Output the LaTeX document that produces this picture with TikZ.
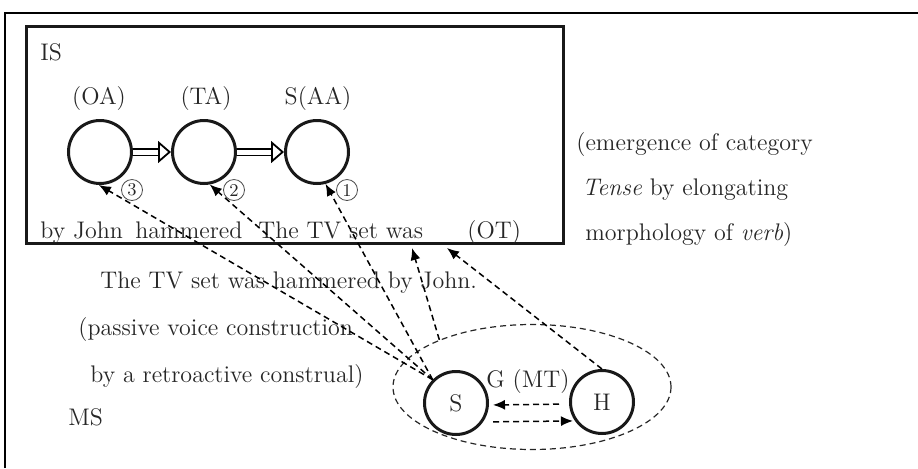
\documentclass[tikz,border=0pt]{standalone}
\usetikzlibrary{arrows.meta, positioning, calc, shapes.geometric}

\begin{document}
\begin{tikzpicture}[
  x=0.5pt, y=-0.5pt,
  every node/.style = {font=\fontsize{12}{14}\selectfont, text=black!85, inner sep=0pt},
  stage/.style = {circle, draw=black!90, line width=1.5pt, minimum size=31.5pt},
  num/.style = {circle, draw=black!70, line width=0.4pt, minimum size=10.5pt,
                font=\fontsize{9}{10}\selectfont},
  lbl/.style = {anchor=base west},
  dasharrow/.style = {-{Latex[length=6pt,width=5pt]}, dash pattern=on 3pt off 2pt, line width=0.75pt},
  dblarrow/.style = {double, double distance=2.5pt, line width=0.9pt,
                     -{Triangle[open,length=6.5pt,width=11pt]}}
]
\useasboundingbox (0,0) rectangle (918,468);

% outer frame (runs off the page right and below)
\draw[line width=1pt] (5,468) -- (5,13) -- (918,13);

% IS box
\node[draw=black!90, line width=1.5pt, minimum width=268.5pt, minimum height=108.5pt] (isbox) at (295,135) {};
\node[lbl] (is) at (40,60) {IS};

% stages in IS
\node[stage] (oa) at (100,152) {};
\node[stage] (ta) at (204,152) {};
\node[stage] (aa) at (317,152) {};
\node[anchor=base] (oalbl) at (99,104) {(OA)};
\node[anchor=base] (talbl) at (206,104) {(TA)};
\node[anchor=base] (aalbl) at (318,104) {S(AA)};
\draw[dblarrow] (oa) -- (ta);
\draw[dblarrow] (ta) -- (aa);

\node[num] (n3) at (132,190) {3};
\node[num] (n2) at (234,190) {2};
\node[num] (n1) at (347,190) {1};

% words along the bottom of IS
\node[lbl] (w1) at (40,238) {by John};
\node[lbl] (w2) at (135,238) {hammered};
\node[lbl] (w3) at (258,238) {The TV set was};
\node[lbl] (ot) at (467,238) {(OT)};

% comment on the right
\node[lbl] (c1) at (576,150) {(emergence of category};
\node[lbl] (c2) at (582,195) {\textit{Tense} by elongating};
\node[lbl] (c3) at (585,240) {morphology of \textit{verb})};

% MS texts
\node[lbl] (sent) at (100,288) {The TV set was hammered by John.};
\node[lbl] (p1) at (78,335) {(passive voice construction};
\node[lbl] (p2) at (90,382) {by a retroactive construal)};
\node[lbl] (ms) at (68,425) {MS};

% speaker and hearer
\node[ellipse, draw=black!85, line width=0.6pt, dash pattern=on 3pt off 2pt,
      minimum width=139pt, minimum height=62.5pt] (grp) at (532,387) {};
\node[stage] (S) at (456,403) {S};
\node[stage] (H) at (602,402) {H};
\node[anchor=base] (g) at (528,387) {G (MT)};
\draw[dasharrow, shorten <=5pt, shorten >=2pt] ([yshift=-1pt]H.west) -- ([yshift=-1pt]S.east);
\draw[dasharrow, shorten <=5pt, shorten >=1pt] (S.-35) -- (H.-145);

% retroactive construal
\draw[dasharrow] (S.135) -- (oa.-92);
\draw[dasharrow] (S.135) -- (ta.-80);
\draw[dasharrow] (S.135) -- (aa.-75);
\draw[dasharrow] (grp.153) -- ($(isbox.south)+(117,3)$);
\draw[dasharrow] (H.north) -- ($(isbox.south)+(152,3)$);

\end{tikzpicture}
\end{document}
